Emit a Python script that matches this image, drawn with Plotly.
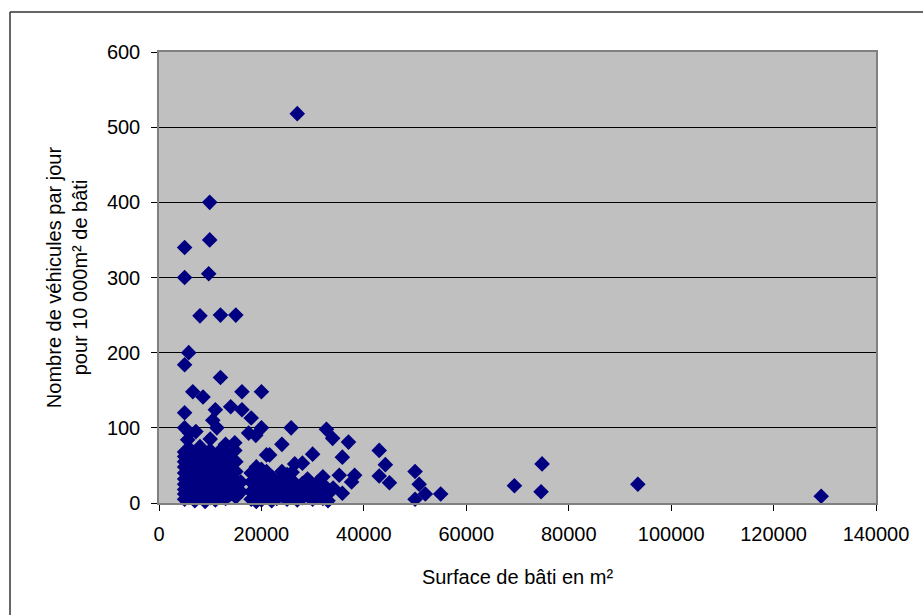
import plotly.graph_objects as go

# Scattered / identifiable points (surface m², vehicles per day per 10 000 m²)
x_main = [27000, 9900, 5000, 9900, 5000, 9700, 8000, 12000, 15000, 5800, 5000, 12000,
          6600, 8600, 16200, 20000, 5000, 14000, 16200, 18000, 11000, 10500, 11300,
          5000, 6000, 7200, 5600, 17500, 18900, 20000, 25800, 14800, 14800, 13000,
          24000, 21000, 32700, 33900, 37000, 30000, 35800, 43000, 44200, 26500, 28000,
          35200, 38200, 43000, 45000, 37600, 35800, 32000, 21600,
          50000, 50800, 52000, 55000, 50000, 69400, 74800, 74600, 93500, 129300]
y_main = [518, 400, 340, 350, 300, 305, 249, 250, 250, 200, 184, 167,
          148, 141, 148, 148, 120, 128, 124, 113, 124, 110, 100,
          100, 93, 95, 84, 93, 90, 100, 100, 80, 70, 78,
          78, 64, 98, 86, 81, 65, 61, 70, 51, 52, 53,
          37, 37, 36, 27, 28, 13, 35, 64,
          42, 25, 12, 12, 5, 23, 52, 15, 25, 9]

# Dense cluster, small buildings
x_c1 = [5000]*10 + [6000]*6 + [7000]*6 + [8000]*6 + [9000]*6 + [10000]*7 + [11000]*6 + \
       [12000]*6 + [13000]*6 + [14000]*5 + [15000]*5 + [16000]*2
y_c1 = [5, 12, 18, 25, 32, 40, 48, 55, 62, 68,
        8, 20, 35, 45, 58, 72,
        3, 15, 28, 40, 52, 65,
        10, 22, 33, 47, 60, 75,
        2, 14, 26, 38, 50, 64,
        7, 18, 30, 42, 55, 70, 85,
        4, 16, 27, 36, 48, 62,
        9, 20, 32, 44, 57, 70,
        6, 17, 28, 40, 52, 65,
        12, 24, 35, 46, 58,
        8, 20, 30, 42, 55,
        15, 28]

# Dense cluster, medium buildings
x_c2 = [18000]*4 + [19000]*5 + [20000]*5 + [21000]*4 + [22000]*4 + [23000]*3 + [24000]*4 + \
       [25000]*4 + [26000]*4 + [27000]*3 + [28000]*3 + [29000]*3 + [30000]*3 + [31000]*3 + \
       [32000]*3 + [33000]*2 + [34000]
y_c2 = [5, 15, 28, 40,
        2, 10, 22, 35, 48,
        4, 14, 25, 38, 45,
        8, 18, 30, 42,
        3, 12, 24, 35,
        6, 16, 28,
        10, 20, 32, 42,
        5, 15, 25, 38,
        8, 18, 30, 41,
        4, 12, 22,
        7, 16, 26,
        10, 20, 32,
        5, 14, 24,
        9, 18, 28,
        6, 15, 25,
        3, 12, 20]

x_all = x_main + x_c1 + x_c2
y_all = y_main + y_c1 + y_c2

x_ticks = [0, 20000, 40000, 60000, 80000, 100000, 120000, 140000]
y_ticks = [0, 100, 200, 300, 400, 500, 600]

fig = go.Figure()
fig.add_trace(go.Scatter(
    x=x_all, y=y_all, mode="markers",
    marker=dict(symbol="diamond", color="#000080", size=12, line=dict(width=0)),
    showlegend=False, cliponaxis=False,
))

font = dict(family="Liberation Sans, Arial, sans-serif", size=20, color="black")

# outer chart-area border: only the left and top edges are inside the window
bx0 = (10 - 159) / 717
by1 = (503 - 12) / 451
fig.update_layout(
    width=923, height=615,
    margin=dict(l=159, r=47, t=52, b=112),
    paper_bgcolor="white", plot_bgcolor="#C0C0C0",
    font=font,
    xaxis=dict(range=[0, 140000], tickvals=x_ticks, ticktext=[str(v) for v in x_ticks],
               showgrid=False, zeroline=False, showline=True, linecolor="#808080",
               linewidth=1.5, mirror=True, ticks="outside", ticklen=6, tickcolor="black",
               ticklabelstandoff=6, tickfont=font,
               title=dict(text="Surface de bâti en m²", standoff=26, font=font)),
    yaxis=dict(range=[0, 600], tickvals=y_ticks, ticktext=[str(v) for v in y_ticks],
               showgrid=True, gridcolor="black", gridwidth=1, zeroline=False,
               showline=True, linecolor="#808080", linewidth=1.5, mirror=True,
               ticks="outside", ticklen=6, tickcolor="black",
               ticklabelstandoff=7, tickfont=font,
               title=dict(text="Nombre de véhicules par jour<br>pour 10 000m² de bâti",
                          standoff=14, font=font)),
    shapes=[
        dict(type="line", xref="paper", yref="paper", x0=bx0, x1=bx0,
             y0=-0.3, y1=by1, line=dict(color="#333333", width=1.5)),
        dict(type="line", xref="paper", yref="paper", x0=bx0, x1=1.2,
             y0=by1, y1=by1, line=dict(color="#333333", width=1.5)),
    ],
)

fig.write_html("out.html")
